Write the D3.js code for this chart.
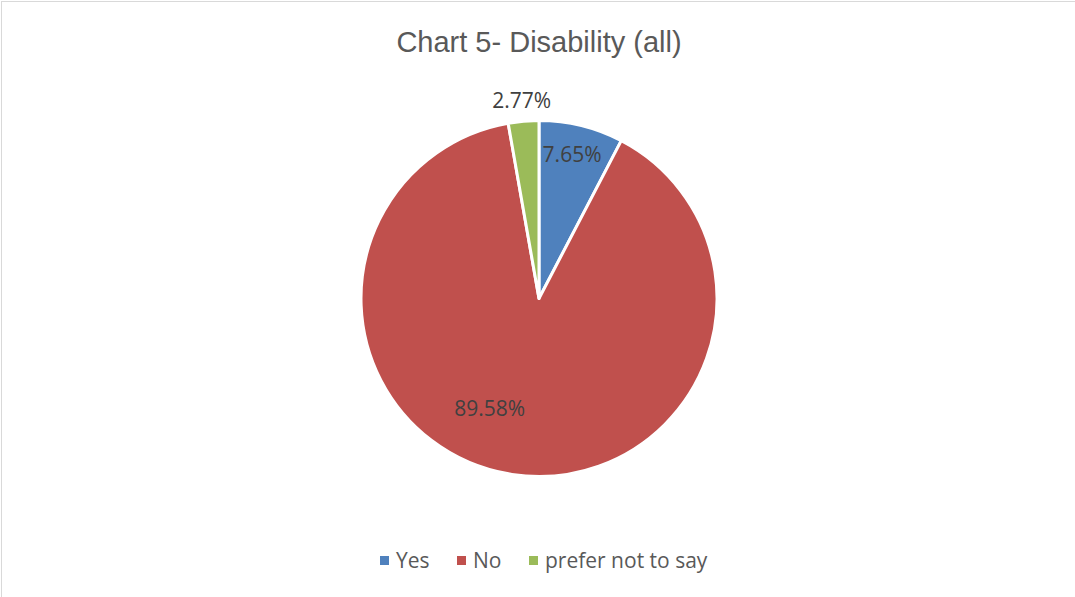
<!DOCTYPE html>
<html>
<head>
<meta charset="utf-8">
<script src="https://cdn.jsdelivr.net/npm/d3@7/dist/d3.min.js"></script>
<style>
  html, body { margin: 0; padding: 0; background: #fff; }
  svg { display: block; }
</style>
</head>
<body>
<svg id="chart" width="1075" height="597"></svg>
<script>
// Survey response: disability (all respondents)
const categories = ["Yes", "No", "prefer not to say"];
const shares = [7.65, 89.58, 2.77];
const labelTexts = ["7.65%", "89.58%", "2.77%"];
const colors = ["#4f81bd", "#c0504d", "#9bbb59"];

const W = 1075, H = 597;
const cx = 539, cy = 298.5, R = 178;

const svg = d3.select("#chart");

// chart-area frame
svg.append("rect")
  .attr("x", 1.5).attr("y", 1.5)
  .attr("width", W + 10).attr("height", H + 10)
  .attr("fill", "#fff")
  .attr("stroke", "#d9d9d9")
  .attr("stroke-width", 1);

// title
svg.append("text")
  .attr("x", cx).attr("y", 52)
  .attr("text-anchor", "middle")
  .attr("font-family", "'Liberation Sans', Arial, sans-serif")
  .attr("font-size", 29)
  .attr("fill", "#595959")
  .text("Chart 5- Disability (all)");

const data = categories.map((c, i) => ({ name: c, value: shares[i], label: labelTexts[i], color: colors[i] }));

const pie = d3.pie().value(d => d.value).sort(null);
const arcs = pie(data);
const arc = d3.arc().innerRadius(0).outerRadius(R);

const g = svg.append("g").attr("transform", `translate(${cx},${cy})`);

g.selectAll("path.slice")
  .data(arcs)
  .join("path")
  .attr("class", "slice")
  .attr("d", arc)
  .attr("fill", d => d.data.color)
  .attr("stroke", "#fff")
  .attr("stroke-width", 3)
  .attr("stroke-linejoin", "round");

// data-label placement: radius and angular nudge per slice (best-fit style)
const labelRadius = [148, 120, 199];
const labelAngleShift = [-0.015, 0.27, 0];
const labelFont = "'Open Sans', sans-serif";

g.selectAll("text.value")
  .data(arcs)
  .join("text")
  .attr("class", "value")
  .attr("text-anchor", "middle")
  .attr("dominant-baseline", "central")
  .attr("font-family", labelFont)
  .attr("font-size", 21)
  .attr("fill", "#404040")
  .attr("x", (d, i) => {
    const a = (d.startAngle + d.endAngle) / 2 + labelAngleShift[i];
    return labelRadius[i] * Math.sin(a);
  })
  .attr("y", (d, i) => {
    const a = (d.startAngle + d.endAngle) / 2 + labelAngleShift[i];
    return -labelRadius[i] * Math.cos(a);
  })
  .text(d => d.data.label);

// legend
const legendX = [380, 457, 529];
const legend = svg.append("g").attr("transform", "translate(0,560)");
const items = legend.selectAll("g.item")
  .data(data)
  .join("g")
  .attr("class", "item")
  .attr("transform", (d, i) => `translate(${legendX[i]},0)`);

items.append("rect")
  .attr("x", 0).attr("y", -4)
  .attr("width", 9).attr("height", 9)
  .attr("fill", d => d.color);

items.append("text")
  .attr("x", 16).attr("y", 0)
  .attr("dominant-baseline", "central")
  .attr("font-family", labelFont)
  .attr("font-size", 21)
  .attr("fill", "#595959")
  .text(d => d.name);
</script>
</body>
</html>
